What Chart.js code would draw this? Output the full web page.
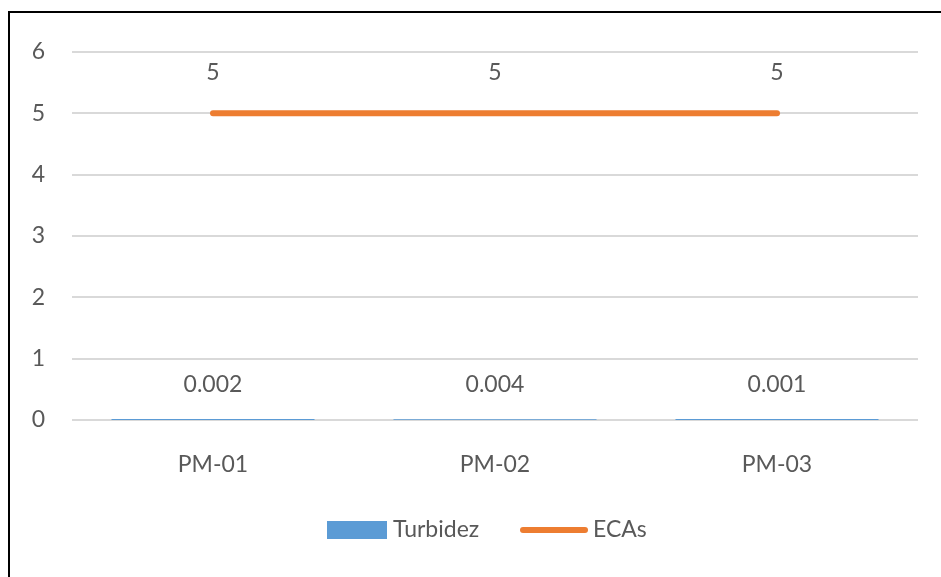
<!DOCTYPE html>
<html>
<head>
<meta charset="utf-8">
<script src="https://cdn.jsdelivr.net/npm/chart.js@4"></script>
<style>
  html, body { margin: 0; padding: 0; background: #fff; }
  #wrap { position: relative; width: 941px; height: 577px; overflow: hidden; }
  #frame { position: absolute; left: 8px; top: 11px; width: 1000px; height: 700px;
           border-left: 2px solid #000; border-top: 2px solid #000; }
  canvas { position: absolute; left: 0; top: 0; }
</style>
</head>
<body>
<div id="wrap">
  <div id="frame"></div>
  <canvas id="chart" width="941" height="577"></canvas>
</div>
<script>
    const categories = ['PM-01', 'PM-02', 'PM-03'];
    const turbidez = [0.002, 0.004, 0.001];
    const ecas = [5, 5, 5];
    const yTicks = [0, 1, 2, 3, 4, 5, 6];

    const FONT = 'Lato, "Open Sans", sans-serif';
    const TEXT = '#595959';
    const SIZE = 23;

    // value labels + legend drawn on top
    const labelsPlugin = {
      id: 'labels',
      afterDatasetsDraw(chart) {
        const ctx = chart.ctx;
        ctx.save();
        ctx.font = SIZE + 'px ' + FONT;
        ctx.fillStyle = TEXT;
        ctx.textAlign = 'center';
        ctx.textBaseline = 'middle';
        chart.getDatasetMeta(0).data.forEach((el, i) => {
          ctx.fillText(String(turbidez[i]), el.x, el.y - 35);
        });
        chart.getDatasetMeta(1).data.forEach((el, i) => {
          ctx.fillText(String(ecas[i]), el.x, el.y - 41);
        });

        // legend
        const ly = 530;
        ctx.fillStyle = '#5b9bd5';
        ctx.fillRect(327, ly - 9, 60, 18);
        ctx.fillStyle = TEXT;
        ctx.textAlign = 'left';
        ctx.fillText('Turbidez', 393, ly);
        ctx.strokeStyle = '#ed7d31';
        ctx.lineWidth = 6;
        ctx.lineCap = 'round';
        ctx.beginPath();
        ctx.moveTo(523, ly);
        ctx.lineTo(585, ly);
        ctx.stroke();
        ctx.fillText('ECAs', 593, ly);
        ctx.restore();
      }
    };

    const ctxChart = document.getElementById('chart');
    new Chart(ctxChart, {
      type: 'bar',
      data: {
        labels: categories,
        datasets: [
          {
            type: 'bar',
            label: 'Turbidez',
            data: turbidez,
            backgroundColor: '#5b9bd5',
            order: 2
          },
          {
            type: 'line',
            label: 'ECAs',
            data: ecas,
            borderColor: '#ed7d31',
            borderWidth: 6,
            borderCapStyle: 'round',
            pointRadius: 0,
            fill: false,
            order: 1
          }
        ]
      },
      options: {
        responsive: false,
        animation: false,
        layout: { padding: { top: 52, right: 23, left: 0, bottom: 0 } },
        plugins: { legend: { display: false }, tooltip: { enabled: false } },
        scales: {
          x: {
            grid: { display: false },
            border: { display: false },
            ticks: { font: { size: SIZE, family: FONT }, color: TEXT, padding: 23 },
            afterFit(scale) { scale.height = 157; }
          },
          y: {
            min: 0,
            max: 6,
            afterBuildTicks(scale) { scale.ticks = yTicks.map(v => ({ value: v })); },
            grid: { color: '#d9d9d9', lineWidth: 2, drawTicks: false },
            border: { display: false },
            ticks: { font: { size: SIZE, family: FONT }, color: TEXT, padding: 27 },
            afterFit(scale) { scale.width = 72; }
          }
        }
      },
      plugins: [labelsPlugin]
    });
</script>
</body>
</html>
